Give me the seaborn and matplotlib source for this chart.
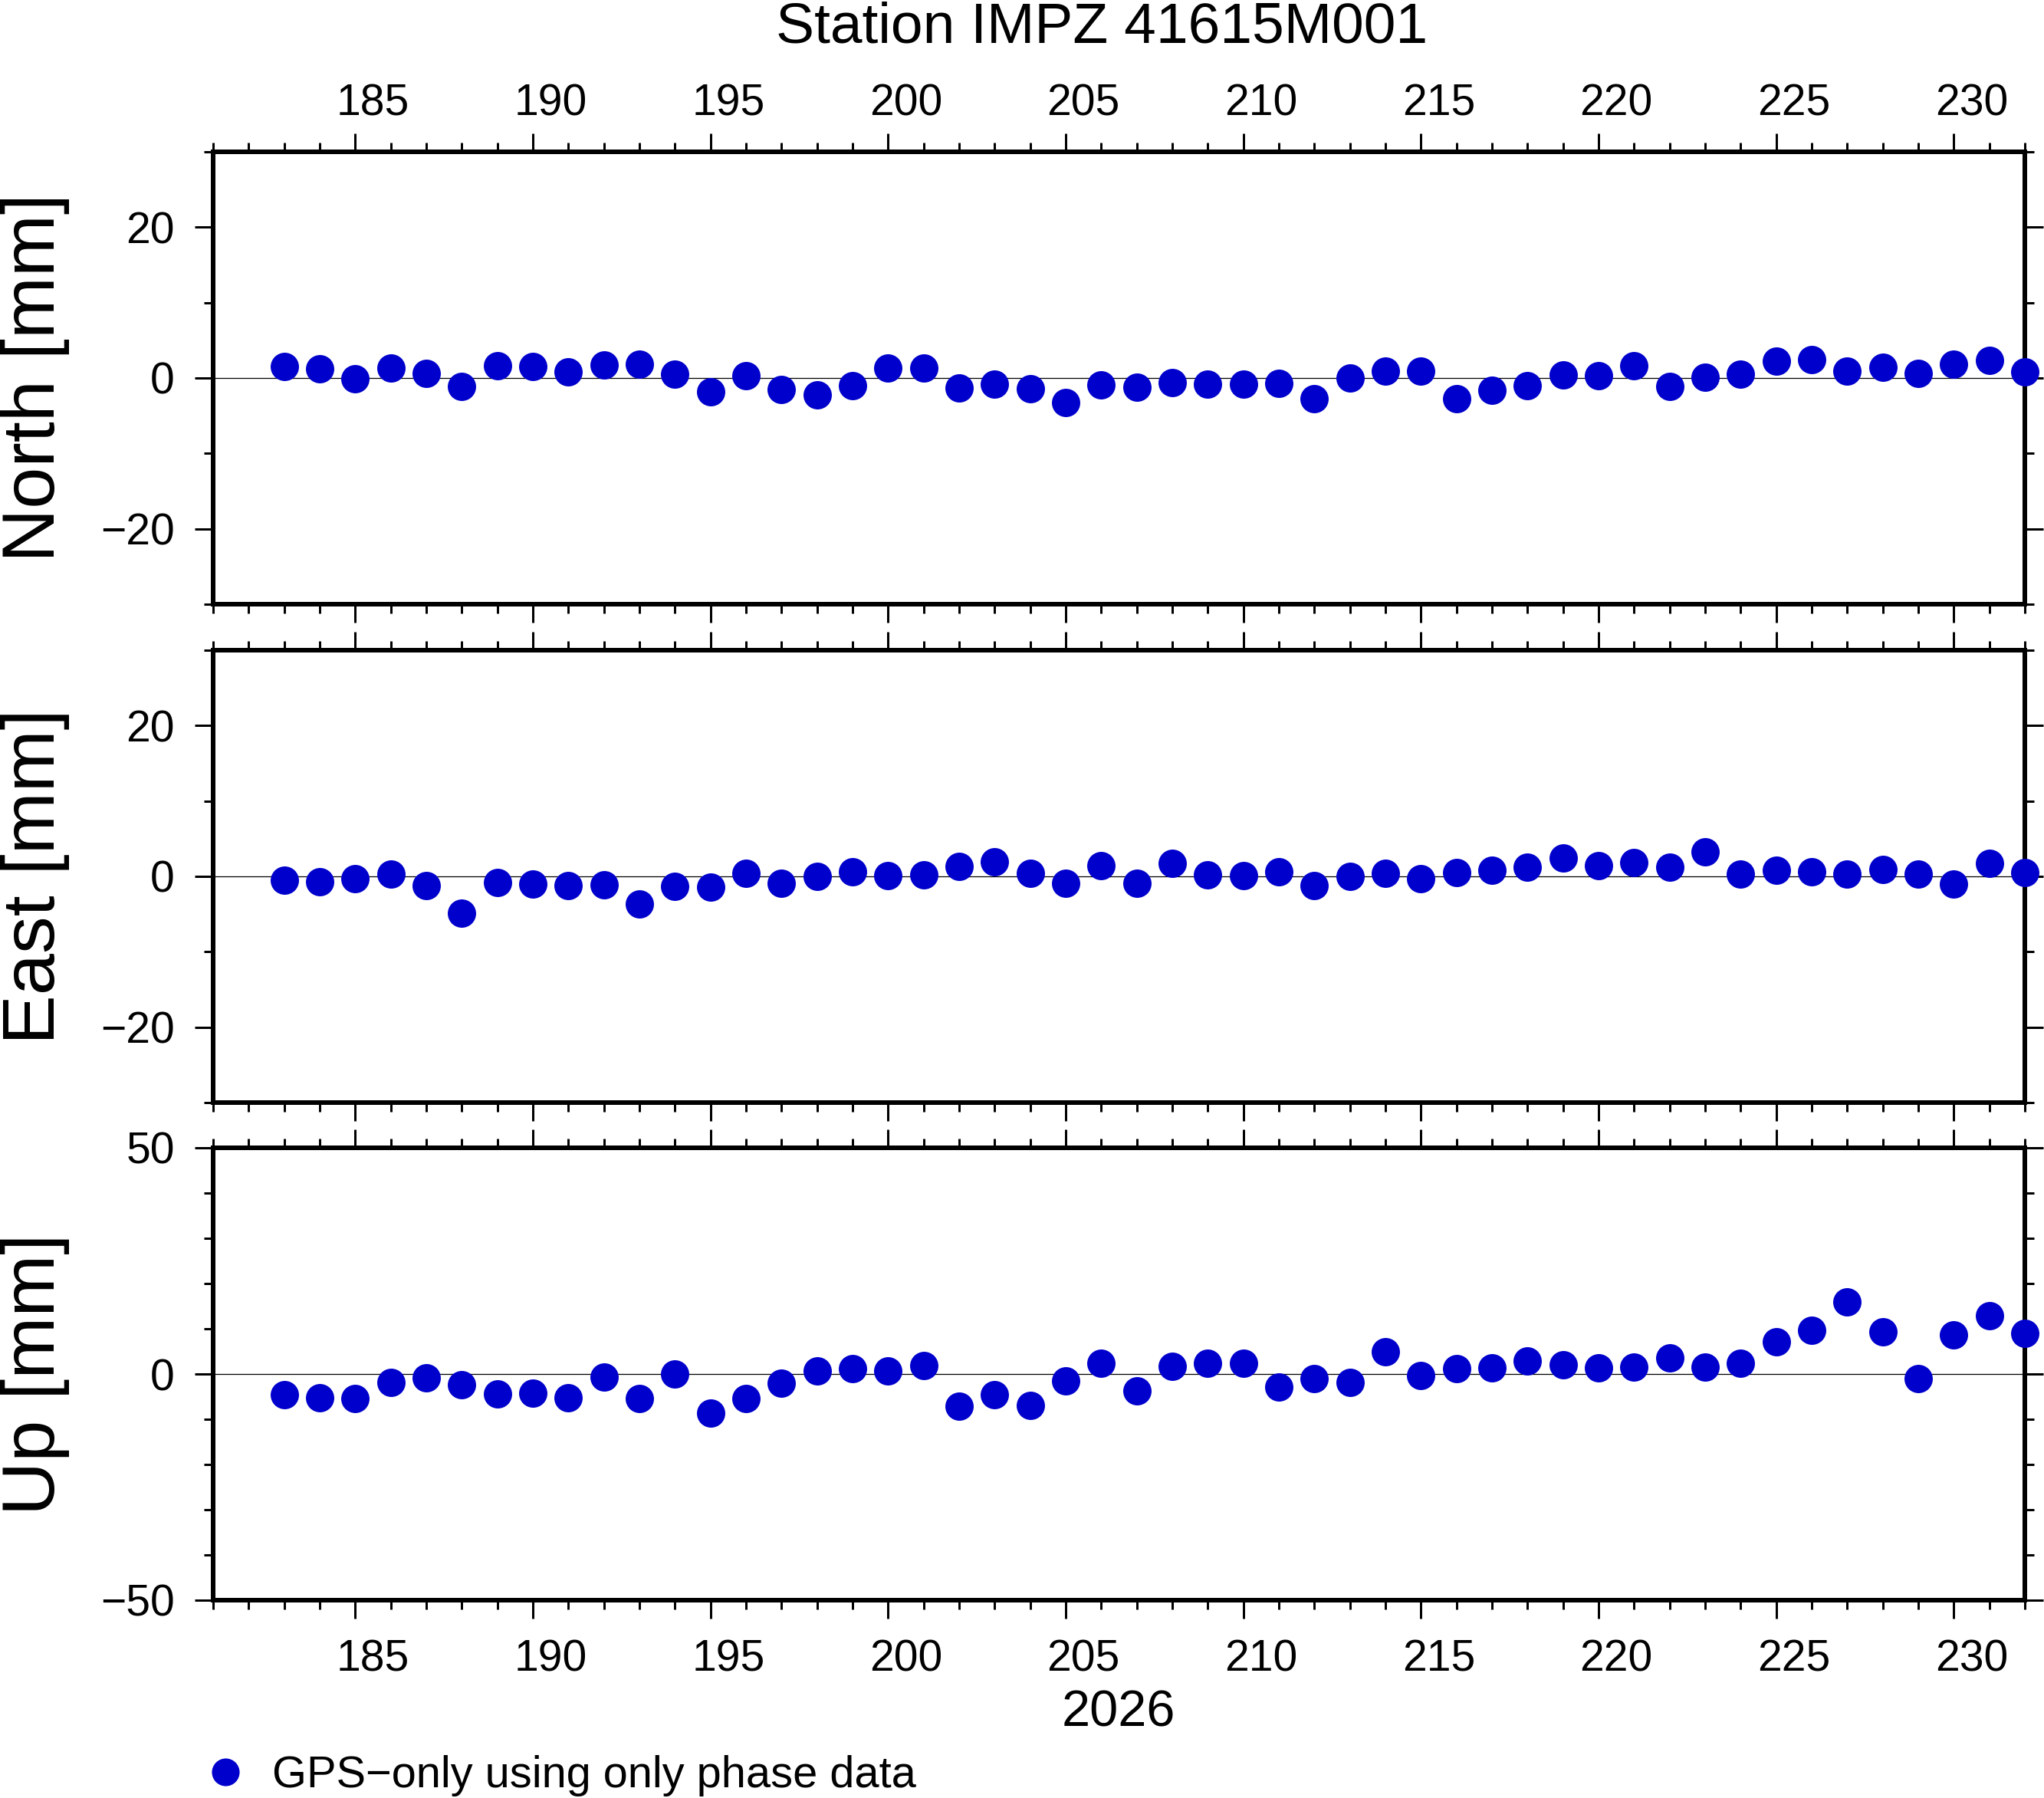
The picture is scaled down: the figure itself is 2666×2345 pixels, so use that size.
import numpy as np
import pandas as pd
import matplotlib
matplotlib.use("Agg")
import matplotlib.pyplot as plt
from matplotlib.ticker import MultipleLocator, NullLocator
from matplotlib.lines import Line2D
import seaborn as sns

# day of year 2026, one solution per day
doy = list(range(183, 233))

# daily residuals in mm
north = [1.5, 1.2, -0.1, 1.3, 0.6, -1.1, 1.6, 1.5, 0.8, 1.7,
         1.8, 0.5, -1.85, 0.3, -1.5, -2.2, -1.0, 1.3, 1.3, -1.3,
         -0.8, -1.4, -3.3, -0.9, -1.2, -0.6, -0.8, -0.8, -0.7, -2.7,
         0.0, 0.9, 0.9, -2.7, -1.6, -1.0, 0.4, 0.3, 1.6, -1.1,
         0.1, 0.5, 2.2, 2.4, 0.9, 1.4, 0.6, 1.8, 2.3, 0.8]
east = [-0.5, -0.7, -0.3, 0.3, -1.2, -4.85, -0.8, -1.0, -1.2, -1.1,
        -3.7, -1.3, -1.4, 0.4, -0.9, 0.0, 0.6, 0.1, 0.2, 1.3,
        1.9, 0.4, -0.9, 1.4, -0.9, 1.7, 0.2, 0.1, 0.6, -1.2,
        0.0, 0.4, -0.3, 0.5, 0.8, 1.2, 2.4, 1.4, 1.8, 1.2,
        3.3, 0.3, 0.8, 0.6, 0.3, 0.9, 0.3, -1.0, 1.7, 0.5]
up = [-4.5, -5.2, -5.4, -1.8, -0.8, -2.3, -4.35, -4.2, -5.2, -0.6,
      -5.5, 0.05, -8.6, -5.5, -2.0, 0.7, 1.2, 0.7, 1.9, -7.1,
      -4.5, -6.9, -1.5, 2.3, -3.7, 1.75, 2.4, 2.3, -2.8, -1.0,
      -1.8, 5.0, -0.3, 1.2, 1.4, 2.8, 2.1, 1.4, 1.6, 3.6,
      1.6, 2.3, 7.2, 9.7, 16.0, 9.4, -1.1, 8.7, 12.8, 9.0]

components = ["North", "East", "Up"]
ylims = {"North": 30, "East": 30, "Up": 50}
ymajor = {"North": 20, "East": 20, "Up": 50}
xticks_lab = [185, 190, 195, 200, 205, 210, 215, 220, 225, 230]

title = "Station IMPZ 41615M001"
year_label = "2026"
legend_label = "GPS\u2212only using only phase data"

df = pd.DataFrame({"doy": doy, "North": north, "East": east, "Up": up})
long_df = df.melt(id_vars="doy", var_name="component", value_name="mm")

sns.set_theme(style="ticks")
plt.rcParams["font.family"] = ["Liberation Sans", "DejaVu Sans"]
plt.rcParams["axes.unicode_minus"] = True
# GMT-like plain black text and ticks
for key in ["text.color", "axes.labelcolor", "xtick.color", "ytick.color",
            "axes.edgecolor"]:
    plt.rcParams[key] = "black"

W, H = 2666, 2345
fig = plt.figure(figsize=(W / 200, H / 200), dpi=200)

blue = "#0000CC"
left, right = 278, 2641
panels = {"North": (198, 788), "East": (848, 1438), "Up": (1497, 2087)}

for comp in components:
    top, bot = panels[comp]
    ax = fig.add_axes([left / W, 1 - bot / H, (right - left) / W, (bot - top) / H])
    sub = long_df[long_df["component"] == comp]
    ax.axhline(0, color="black", lw=0.45, zorder=0.5)
    sns.scatterplot(data=sub, x="doy", y="mm", ax=ax, color=blue,
                    s=177, linewidth=0, clip_on=False, zorder=3, legend=False)
    ax.set_xlim(181, 232)
    lim = ylims[comp]
    ax.set_ylim(-lim, lim)
    ax.set_xlabel("")
    ax.set_ylabel("")

    ax.xaxis.set_major_locator(MultipleLocator(5))
    ax.xaxis.set_minor_locator(MultipleLocator(1))
    ax.yaxis.set_major_locator(MultipleLocator(ymajor[comp]))
    ax.yaxis.set_minor_locator(MultipleLocator(10))
    ax.tick_params(axis="both", which="both", direction="out", width=1.08,
                   color="black", top=True, bottom=True, left=True, right=True)
    ax.tick_params(axis="both", which="major", length=8.6)
    ax.tick_params(axis="both", which="minor", length=4.3)
    ax.tick_params(axis="x", labelbottom=False, labeltop=False)
    ax.tick_params(axis="y", labelsize=20.5, pad=9.4, labelright=False,
                   labelcolor="black")
    for sp in ax.spines.values():
        sp.set_visible(True)
        sp.set_linewidth(2.16)
        sp.set_color("black")
    ax.set_facecolor("white")

    # day labels sit in the middle of each day interval
    if comp in ("North", "Up"):
        where = "top" if comp == "North" else "bottom"
        sec = ax.secondary_xaxis(where)
        sec.set_xticks([d + 0.5 for d in xticks_lab], labels=[str(d) for d in xticks_lab])
        sec.xaxis.set_minor_locator(NullLocator())
        sec.tick_params(length=0, labelsize=20.5, labelcolor="black",
                        pad=12.9 if comp == "North" else 18.2)
        for sp in sec.spines.values():
            sp.set_visible(False)

    ycen = 1 - (top + bot) / 2 / H
    fig.text(91 / W, ycen, f"{comp} [mm]", rotation=90, ha="right",
             va="center", fontsize=35, color="black")

fig.text(1437 / W, 1 - 56 / H, title, ha="center", va="baseline",
         fontsize=27, color="black")
fig.text(1459 / W, 1 - 2251 / H, year_label, ha="center", va="baseline",
         fontsize=24, color="black")

handle = Line2D([], [], marker="o", linestyle="none", color=blue,
                markersize=13, markeredgewidth=0)
fig.legend(handles=[handle], labels=[legend_label], loc="center left",
           bbox_to_anchor=(265 / W, 1 - 2316 / H), frameon=False,
           fontsize=20.8, handlelength=1.0, handletextpad=0.55,
           borderpad=0, borderaxespad=0, labelcolor="black")

fig.savefig("out.png", dpi=200, facecolor="white")
